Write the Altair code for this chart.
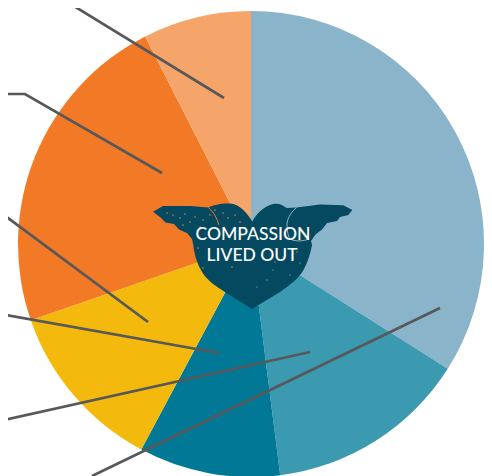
import altair as alt
import pandas as pd

share = [34, 14, 9.8, 11.9, 22.8, 7.5]
slice_ids = ["a", "b", "c", "d", "e", "f"]
slice_colors = ["#89B4CA", "#3B9AAF", "#017896", "#F3B90C", "#F27A27", "#F5A569"]
order = [1, 2, 3, 4, 5, 6]

leader_id = [1, 1, 2, 2, 2, 3, 3, 4, 4, 5, 5, 6, 6]
leader_x = [64, 224, 0, 25, 162, 0, 148, 0, 219, 0, 310, 92, 440]
leader_y = [0, 98, 94, 94, 173, 212, 322, 314, 353, 421, 352, 476, 308]
leader_seq = list(range(13))

labels = ["COMPASSION", "LIVED OUT"]
label_x = [253, 252]
label_y = [235, 256]

speck_x = [167, 173, 180, 185, 190, 195, 203, 210, 215, 223, 228, 235, 240, 200, 183, 198, 203, 232]
speck_y = [213, 215, 218, 214, 222, 217, 220, 215, 210, 213, 218, 215, 222, 227, 225, 248, 268, 267]
light_x = [267, 273, 283, 297, 300, 257, 290, 275]
light_y = [280, 270, 257, 252, 263, 287, 275, 262]

HEART = ("M0,.53 L-.27,.36 C-.40,.28 -.47,.22 -.51,.14 C-.56,.05 -.58,-.04 -.587,-.11 "
         "L-.60,-.17 L-.65,-.23 L-.73,-.265 L-.78,-.32 L-.865,-.335 L-.92,-.39 L-.99,-.443 "
         "L-.89,-.50 L-.62,-.50 L-.437,-.485 C-.38,-.515 -.27,-.535 -.187,-.52 "
         "C-.11,-.50 -.04,-.42 .003,-.343 C.04,-.42 .12,-.50 .213,-.52 "
         "C.27,-.53 .31,-.505 .347,-.48 L.447,-.485 L.68,-.515 L.913,-.508 L1.003,-.46 "
         "L.963,-.41 L.88,-.39 L.85,-.35 L.75,-.33 L.70,-.265 L.635,-.215 L.59,-.15 L.60,-.11 "
         "C.585,-.03 .56,.06 .515,.14 C.47,.22 .38,.29 .28,.36 Z")
WING_L = "M-.437,-.485 C-.38,-.44 -.35,-.37 -.33,-.31"
WING_R = "M.447,-.485 C.40,-.45 .36,-.39 .35,-.33 C.35,-.25 .36,-.20 .38,-.17 C.44,-.14 .52,-.15 .57,-.17"

xs = alt.Scale(domain=[8, 484], range=[0, 476])
ys = alt.Scale(domain=[8, 476], range=[0, 468])
X = lambda f: alt.X(f, type="quantitative", scale=xs, axis=None)
Y = lambda f: alt.Y(f, type="quantitative", scale=ys, axis=None)

pie_df = pd.DataFrame({"id": slice_ids, "share": share, "ord": order, "cx": 251, "cy": 244})
pie = alt.Chart(pie_df).mark_arc(outerRadius=233, opacity=1).encode(
    x=X("cx"), y=Y("cy"),
    theta=alt.Theta("share:Q", stack=True),
    order=alt.Order("ord:Q"),
    color=alt.Color("id:N", scale=alt.Scale(domain=slice_ids, range=slice_colors), legend=None),
)

lines_df = pd.DataFrame({"id": leader_id, "x": leader_x, "y": leader_y, "s": leader_seq})
lines = alt.Chart(lines_df).mark_line(color="#58585A", strokeWidth=2.7, clip=False).encode(
    x=X("x"), y=Y("y"), detail="id:N", order="s:Q"
)

anchor = pd.DataFrame({"x": [252], "y": [256]})
heart = alt.Chart(anchor).mark_point(shape=HEART, size=40000, filled=True, fill="#04495F", opacity=1, strokeWidth=0).encode(
    x=X("x"), y=Y("y")
)
wing_l = alt.Chart(anchor).mark_point(shape=WING_L, size=40000, filled=False, stroke="#F27A27", strokeWidth=1, opacity=1).encode(
    x=X("x"), y=Y("y")
)
wing_r = alt.Chart(anchor).mark_point(shape=WING_R, size=40000, filled=False, stroke="#89B4CA", strokeWidth=1, opacity=1).encode(
    x=X("x"), y=Y("y")
)
specks = alt.Chart(pd.DataFrame({"x": speck_x, "y": speck_y})).mark_circle(size=3, color="#F27A27", opacity=0.9).encode(
    x=X("x"), y=Y("y")
)
lights = alt.Chart(pd.DataFrame({"x": light_x, "y": light_y})).mark_circle(size=2, color="#89B4CA", opacity=0.8).encode(
    x=X("x"), y=Y("y")
)

text_df = pd.DataFrame({"t": labels, "x": label_x, "y": label_y})
text = alt.Chart(text_df).mark_text(font="Lato", fontSize=17.5, fontWeight=500, color="#FFFFFF", align="center", baseline="middle").encode(
    x=X("x"), y=Y("y"), text="t:N"
)

chart = alt.layer(pie, lines, heart, wing_l, wing_r, specks, lights, text).properties(
    width=476, height=468, padding=0,
    autosize=alt.AutoSizeParams(type="none"),
).configure_view(stroke=None)

chart.save("out.html", embed_options={"renderer": "svg", "actions": False})
